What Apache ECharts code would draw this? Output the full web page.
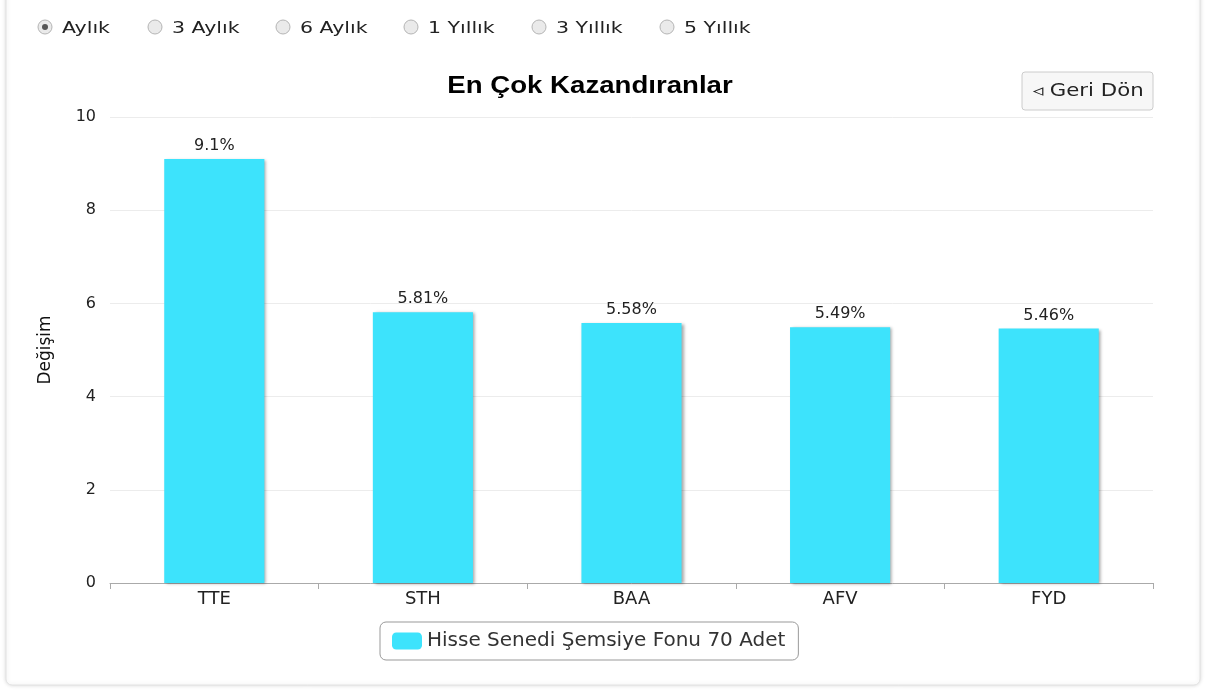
<!DOCTYPE html>
<html><head><meta charset="utf-8">
<script src="https://cdn.jsdelivr.net/npm/echarts@6/dist/echarts.min.js"></script>
<style>html,body{margin:0;padding:0;background:#fff}#c{width:1207px;height:690px}</style>
</head><body><div id="c"></div>
<script>
const categories = ['TTE', 'STH', 'BAA', 'AFV', 'FYD'];
const values = [9.1, 5.81, 5.58, 5.49, 5.46];
const labels = ['9.1%', '5.81%', '5.58%', '5.49%', '5.46%'];
const seriesName = 'Hisse Senedi Şemsiye Fonu 70 Adet';
const periods = ['Aylık', '3 Aylık', '6 Aylık', '1 Yıllık', '3 Yıllık', '5 Yıllık'];
const yTicks = [0, 2, 4, 6, 8, 10];
const titleText = 'En Çok Kazandıranlar';
const backText = '◃ Geri Dön';

const chart = echarts.init(document.getElementById('c'), null, {renderer: 'canvas'});
const font = 'DejaVu Sans, Verdana, sans-serif';
const radioX = [45, 155, 283, 411, 539, 667];
const graphics = [
  {type: 'rect', shape: {x: 6, y: -10, width: 1194, height: 695, r: 6}, style: {fill: '#fff', stroke: '#e2e2e2', lineWidth: 1, shadowBlur: 4, shadowColor: 'rgba(0,0,0,0.15)'}, z: -10},
  {type: 'text', x: 590, y: 87, scaleX: 1.2, style: {text: titleText, fill: '#000', font: 'bold 23px Liberation Sans, Arial, sans-serif', textAlign: 'center', textVerticalAlign: 'middle'}},
  {type: 'rect', shape: {x: 1022, y: 72, width: 131, height: 38, r: 3}, style: {fill: '#f7f7f7', stroke: '#cccccc', lineWidth: 1}},
  {type: 'text', x: 1088, y: 92, scaleX: 1.25, style: {text: backText, fill: '#222', font: '17px ' + font, textAlign: 'center', textVerticalAlign: 'middle'}}
];
periods.forEach((p, i) => {
  graphics.push({type: 'circle', shape: {cx: radioX[i], cy: 27, r: 7}, style: {fill: '#eaeaea', stroke: '#b5b5b5', lineWidth: 1}});
  if (i === 0) graphics.push({type: 'circle', shape: {cx: radioX[i], cy: 27, r: 3}, style: {fill: '#555'}});
  graphics.push({type: 'text', x: radioX[i] + 17, y: 29, scaleX: 1.28, style: {text: p, fill: '#222', font: '16px ' + font, textVerticalAlign: 'middle'}});
});

chart.setOption({
  animation: false,
  graphic: graphics,
  legend: {
    data: [seriesName], left: 380, top: 622, padding: [9, 13, 9, 12],
    borderColor: '#999', borderWidth: 1, borderRadius: 6,
    icon: 'roundRect', itemWidth: 30, itemHeight: 17, itemGap: 8,
    textStyle: {fontFamily: font, fontSize: 20, color: '#333'}
  },
  grid: {left: 110, right: 54, top: 117, bottom: 107},
  xAxis: {
    type: 'category', data: categories,
    axisLine: {lineStyle: {color: '#aaa'}},
    axisTick: {show: true, length: 6, lineStyle: {color: '#aaa'}},
    axisLabel: {fontFamily: font, fontSize: 18, color: '#222', margin: 7}
  },
  yAxis: {
    type: 'value', min: yTicks[0], max: yTicks[yTicks.length - 1], interval: 2,
    name: 'Değişim', nameLocation: 'middle', nameGap: 56, nameRotate: 90,
    nameTextStyle: {fontFamily: font, fontSize: 17, color: '#111'},
    axisLine: {show: false}, axisTick: {show: false},
    axisLabel: {fontFamily: font, fontSize: 16, color: '#222', margin: 14},
    splitLine: {lineStyle: {color: '#ececec'}}
  },
  series: [{
    name: seriesName, type: 'bar', data: values, barWidth: '48%',
    itemStyle: {color: '#3de3fc', shadowColor: 'rgba(0,0,0,0.35)', shadowOffsetX: 2, shadowOffsetY: 1, shadowBlur: 3},
    label: {show: true, position: 'top', distance: 5, fontFamily: font, fontSize: 16, color: '#222',
      formatter: p => labels[p.dataIndex]}
  }]
});
</script></body></html>
